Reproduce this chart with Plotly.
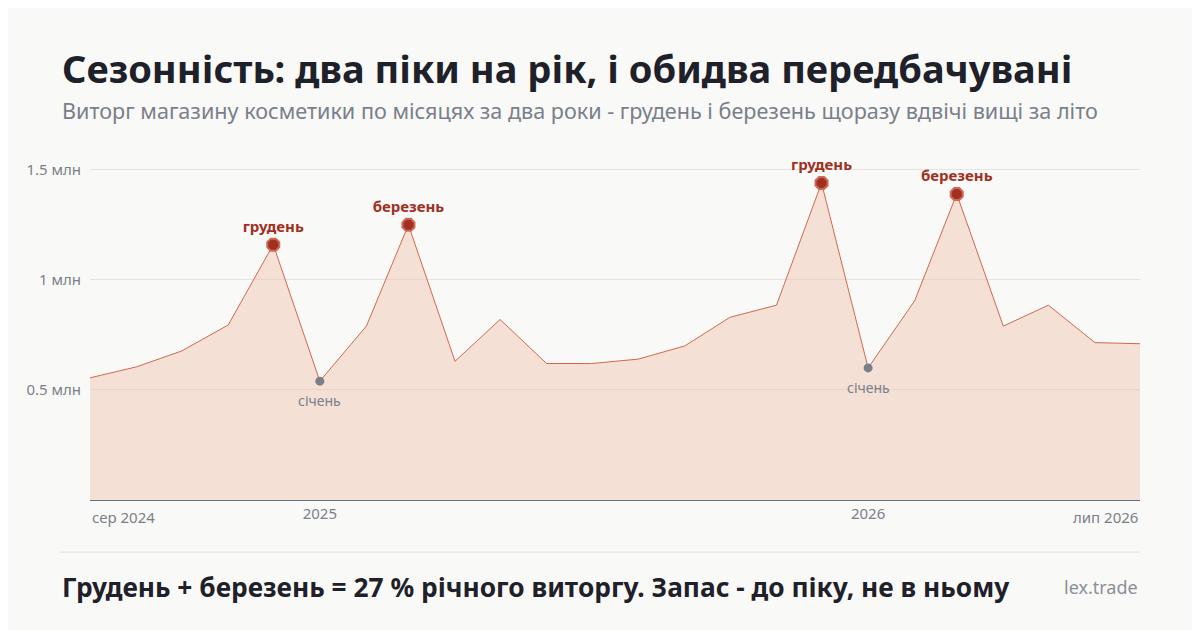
import pandas as pd
import plotly.graph_objects as go

months = pd.date_range("2024-08-01", "2026-07-01", freq="MS")
revenue = [0.555, 0.605, 0.677, 0.795, 1.16, 0.54, 0.79, 1.25, 0.63, 0.82, 0.62, 0.62,
           0.64, 0.70, 0.83, 0.885, 1.44, 0.60, 0.905, 1.39, 0.79, 0.885, 0.715, 0.71]
peak_idx = [4, 7, 16, 19]
peak_labels = ["грудень", "березень", "грудень", "березень"]
low_idx = [5, 17]
low_labels = ["січень", "січень"]
tick_vals = ["2025-01-01", "2026-01-01"]
tick_text = ["2025", "2026"]
edge_ticks = ["сер 2024", "лип 2026"]

red = "#a0301f"
grey = "#7a7f8a"
fig = go.Figure()
fig.add_trace(go.Scatter(x=months, y=revenue, mode="lines", fill="tozeroy",
                         fillcolor="rgba(238,190,165,0.42)",
                         line=dict(color="#d2684f", width=1), hoverinfo="skip"))
fig.add_trace(go.Scatter(x=[months[i] for i in peak_idx], y=[revenue[i] for i in peak_idx],
                         mode="markers+text", text=[f"<b>{t}</b>" for t in peak_labels],
                         textposition="top center",
                         textfont=dict(color=red, size=15, family="Noto Sans"),
                         marker=dict(size=13, color=red, symbol="octagon",
                                     line=dict(color="#d06a58", width=2))))
fig.add_trace(go.Scatter(x=[months[i] for i in low_idx], y=[revenue[i] for i in low_idx],
                         mode="markers", marker=dict(size=9, color=grey)))
for i, t in zip(low_idx, low_labels):
    fig.add_annotation(text=t, x=months[i], y=revenue[i], yanchor="top", yshift=-8,
                       showarrow=False, font=dict(size=14, color=grey))

fig.update_layout(
    width=1200, height=630, showlegend=False,
    paper_bgcolor="#f9f9f7", plot_bgcolor="#f9f9f7",
    margin=dict(l=82, r=68, t=142, b=138),
    font=dict(family="Noto Sans", color=grey, size=14),
    xaxis=dict(range=[months[0], months[-1]], tickvals=tick_vals, ticktext=tick_text,
               showgrid=False, showline=True, linecolor="#6b7080", ticks="",
               tickfont=dict(size=15, color=grey)),
    yaxis=dict(range=[0, 1.59], tickvals=[0.5, 1, 1.5], ticktext=["0.5 млн", "1 млн", "1.5 млн"],
               gridcolor="#e3e3e3", zeroline=False, ticks="", ticklabelstandoff=8,
               tickfont=dict(size=15, color=grey)),
)
fig.add_annotation(text=edge_ticks[0], x=months[0], xref="x", yref="paper", y=-0.015,
                   xanchor="left", yanchor="top", showarrow=False, font=dict(size=15, color=grey))
fig.add_annotation(text=edge_ticks[1], x=months[-1], xref="x", yref="paper", y=-0.015,
                   xanchor="right", yanchor="top", showarrow=False, font=dict(size=15, color=grey))
fig.add_annotation(text="<b>Сезонність: два піки на рік, і обидва передбачувані</b>",
                   xref="paper", yref="paper", x=-0.029, y=1.234, xanchor="left", yanchor="middle",
                   showarrow=False, font=dict(size=38, color="#1e2129"))
fig.add_annotation(text="Виторг магазину косметики по місяцях за два роки - грудень і березень щоразу вдвічі вищі за літо",
                   xref="paper", yref="paper", x=-0.029, y=1.114, xanchor="left", yanchor="middle",
                   showarrow=False, font=dict(size=21.6, color=grey))
fig.add_shape(type="line", xref="paper", yref="paper", x0=-0.029, x1=1, y0=-0.149, y1=-0.149,
              line=dict(color="#e1e1e1", width=1))
fig.add_annotation(text="<b>Грудень + березень = 27 % річного виторгу. Запас - до піку, не в ньому</b>",
                   xref="paper", yref="paper", x=-0.029, y=-0.249, xanchor="left", yanchor="middle",
                   showarrow=False, font=dict(size=26.3, color="#1e2129"))
fig.add_annotation(text="lex.trade", xref="paper", yref="paper", x=1, y=-0.249,
                   xanchor="right", yanchor="middle", showarrow=False,
                   font=dict(size=18, color="#8a8f99"))
fig.write_html("out.html")
